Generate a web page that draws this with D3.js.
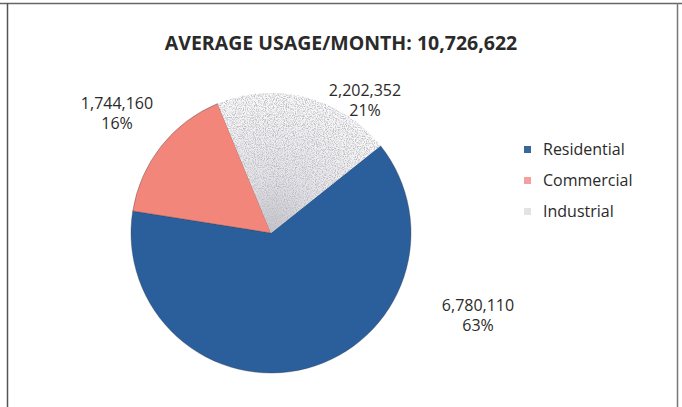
<!DOCTYPE html>
<html>
<head>
<meta charset="utf-8">
<script src="https://cdn.jsdelivr.net/npm/d3@7"></script>
<style>
  body { margin: 0; background: #fff; }
  text { font-family: "Open Sans", "DejaVu Sans", sans-serif; fill: #2a2a2a; }
</style>
</head>
<body>
<svg id="chart" width="682" height="407"></svg>
<script>
// chart data
var categories = ["Residential", "Commercial", "Industrial"],
    usage = [6780110, 1744160, 2202352],
    percents = ["63%", "16%", "21%"],
    title = "AVERAGE USAGE/MONTH: 10,726,622";

var colors = ["#2a5f9b", "#f3867a", "url(#indGrad)"];
var legendSwatch = ["#3a6698", "#f4a0a0", "#c8c8c8"];

// label anchors (center of the two-line label)
var labelAt = [[478, 316], [117, 114], [365, 101]];

var svg = d3.select('#chart'),
    cx = 271, cy = 233, r = 140;

// frame
svg.append('line').attr('x1', 0).attr('y1', 3.5).attr('x2', 682).attr('y2', 3.5)
  .attr('stroke', '#666').attr('stroke-width', 1.5);
svg.append('line').attr('x1', 7.5).attr('y1', 3).attr('x2', 7.5).attr('y2', 407)
  .attr('stroke', '#555').attr('stroke-width', 1.5);
svg.append('line').attr('x1', 677.5).attr('y1', 3).attr('x2', 677.5).attr('y2', 407)
  .attr('stroke', '#777').attr('stroke-width', 1.5);

// industrial speckled fill
var defs = svg.append('defs');
var grad = defs.append('radialGradient').attr('id', 'indGrad')
  .attr('gradientUnits', 'userSpaceOnUse')
  .attr('cx', 0).attr('cy', 0).attr('r', r);
grad.append('stop').attr('offset', '0%').attr('stop-color', '#c4c4ca');
grad.append('stop').attr('offset', '40%').attr('stop-color', '#e4e4e8');
grad.append('stop').attr('offset', '100%').attr('stop-color', '#fafafa');

var filt = defs.append('filter').attr('id', 'speckle')
  .attr('x', 0).attr('y', 0).attr('width', 1).attr('height', 1);
filt.append('feTurbulence').attr('type', 'fractalNoise')
  .attr('baseFrequency', 0.9).attr('numOctaves', 2).attr('result', 'noise');
filt.append('feColorMatrix').attr('in', 'noise').attr('type', 'matrix')
  .attr('values', '0 0 0 0 0.5  0 0 0 0 0.5  0 0 0 0 0.55  0 0 0 -3 1.75')
  .attr('result', 'dots');
filt.append('feComposite').attr('in', 'dots').attr('in2', 'SourceGraphic')
  .attr('operator', 'in');

// title
svg.append('text')
  .attr('x', 341).attr('y', 50)
  .attr('text-anchor', 'middle')
  .style('font-size', '19.5px').style('font-weight', 'bold')
  .text(title);

// pie
var start = 51.5 * Math.PI / 180;
var pie = d3.pie().sort(null).startAngle(start).endAngle(start + 2 * Math.PI);
var arc = d3.arc().innerRadius(0).outerRadius(r);
var arcs = pie(usage);

var g = svg.append('g').attr('transform', 'translate(' + cx + ',' + cy + ')');
g.selectAll('path.slice').data(arcs).enter().append('path')
  .attr('class', 'slice')
  .attr('d', arc)
  .attr('fill', function(d, i) { return colors[i]; })
  .attr('stroke', function(d, i) { return i == 2 ? 'none' : '#3a3a4a'; })
  .attr('stroke-width', 0.6)
  .attr('stroke-opacity', 0.6);

// speckle overlay on industrial slice
g.append('path')
  .attr('d', arc(arcs[2]))
  .attr('fill', '#fff')
  .attr('filter', 'url(#speckle)');

// data labels
var lab = svg.selectAll('g.lab').data(arcs).enter().append('g')
  .attr('class', 'lab')
  .attr('transform', function(d, i) { return 'translate(' + labelAt[i][0] + ',' + labelAt[i][1] + ')'; });
lab.append('text').attr('text-anchor', 'middle').attr('y', -5)
  .style('font-size', '16px')
  .text(function(d) { return d3.format(',')(d.data); });
lab.append('text').attr('text-anchor', 'middle').attr('y', 15)
  .style('font-size', '16px')
  .text(function(d, i) { return percents[i]; });

// legend
var leg = svg.selectAll('g.leg').data(categories).enter().append('g')
  .attr('class', 'leg')
  .attr('transform', function(d, i) { return 'translate(524,' + (150 + i * 31) + ')'; });
leg.append('rect').attr('x', 0).attr('y', -4).attr('width', 7).attr('height', 7)
  .attr('fill', function(d, i) { return legendSwatch[i]; })
  .attr('opacity', function(d, i) { return i == 2 ? 0.5 : 1; });
leg.append('text').attr('x', 19).attr('y', 5)
  .style('font-size', '16px')
  .text(function(d) { return d; });
</script>
</body>
</html>
